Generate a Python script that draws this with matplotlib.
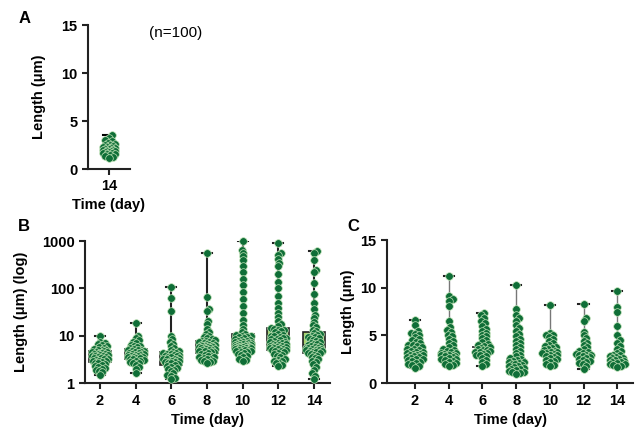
import numpy as np
import matplotlib
matplotlib.use("Agg")
import matplotlib.pyplot as plt

plt.rcParams['font.family'] = ['Liberation Sans', 'DejaVu Sans']

days = ['2', '4', '6', '8', '10', '12', '14']

# panel A, day 14 (um)
a_d14 = [3.5, 3.2, 3.0, 2.9, 2.7, 2.6, 2.5, 2.5, 2.4, 2.3, 2.3, 2.2, 2.2, 2.1, 2.1,
         2.0, 2.0, 1.9, 1.9, 1.9, 1.8, 1.8, 1.7, 1.7, 1.6, 1.6, 1.5, 1.4, 1.3, 1.2]

# panel B, log lengths (um)
b_d2 = [10, 7.5, 7.0, 6.6, 6.3, 6.0, 5.7, 5.5, 5.3, 5.1, 5.0, 4.9, 4.8, 4.6, 4.6,
        4.5, 4.4, 4.3, 4.2, 4.2, 4.1, 4.0, 3.9, 3.8, 3.8, 3.7, 3.6, 3.5, 3.4, 3.4,
        3.3, 3.2, 3.1, 3.0, 3.0, 2.9, 2.8, 2.7, 2.6, 2.5, 2.4, 2.3, 2.2, 2.1, 2.0,
        1.9, 1.8, 1.7, 1.5]
b_d4 = [19, 10, 9.0, 8.0, 7.5, 7.0, 6.5, 6.2, 6.0, 5.8, 5.5, 5.3, 5.1, 5.0, 4.9,
        4.8, 4.7, 4.6, 4.5, 4.4, 4.3, 4.2, 4.1, 4.0, 3.9, 3.9, 3.8, 3.7, 3.6, 3.6,
        3.5, 3.4, 3.4, 3.3, 3.2, 3.1, 3.0, 2.9, 2.8, 2.7, 2.6, 2.4, 2.2, 2.0, 1.6]
b_d6 = [105, 62, 33, 10, 8.5, 7.5, 6.8, 6.0, 5.5, 5.0, 4.7, 4.5, 4.4, 4.3, 4.2,
        4.1, 4.0, 3.9, 3.8, 3.7, 3.6, 3.5, 3.4, 3.3, 3.3, 3.2, 3.1, 3.0, 3.0, 2.9,
        2.8, 2.8, 2.7, 2.6, 2.5, 2.4, 2.3, 2.2, 2.1, 2.0, 1.9, 1.8, 1.6, 1.5, 1.4,
        1.3, 1.2]
b_d8 = [550, 65, 37, 33, 21, 18, 14, 12, 11, 10, 9.5, 9.0, 8.5, 8.2, 7.9, 7.7,
        7.5, 7.3, 7.1, 6.9, 6.7, 6.5, 6.4, 6.3, 6.2, 6.1, 6.0, 5.9, 5.8, 5.7, 5.6,
        5.5, 5.4, 5.3, 5.2, 5.1, 5.0, 4.9, 4.8, 4.7, 4.6, 4.5, 4.4, 4.2, 4.0, 3.8,
        3.7, 3.6, 3.5, 3.4, 3.3, 3.2, 3.1, 3.0, 2.9, 2.8, 2.7]
b_d10 = [1000, 650, 560, 480, 400, 300, 220, 160, 120, 85, 60, 42, 30, 22, 17, 14,
         12, 11, 10.4, 10.1, 9.8, 9.5, 9.2, 8.9, 8.6, 8.3, 8.1, 7.9, 7.7, 7.5,
         7.3, 7.1, 7.0, 6.9, 6.8, 6.7, 6.6, 6.5, 6.4, 6.3, 6.2, 6.1, 6.0, 5.9,
         5.8, 5.8, 5.7, 5.7, 5.6, 5.6, 5.5, 5.5, 5.4, 5.3, 5.2, 5.1, 5.0, 4.9,
         4.8, 4.7, 4.6, 4.5, 4.3, 4.1, 3.9, 3.7, 3.5, 3.3, 3.1, 3.0]
b_d12 = [900, 560, 500, 420, 350, 300, 200, 140, 100, 70, 50, 38, 30, 25, 21, 18,
         16, 14.5, 14, 13.5, 13, 12.5, 11.8, 11, 10.5, 10, 9.8, 9.5, 9.0, 8.9,
         8.7, 8.4, 8.1, 7.8, 7.5, 7.3, 7.2, 7.0, 6.8, 6.6, 6.4, 6.3, 6.2, 6.0,
         5.9, 5.8, 5.7, 5.6, 5.5, 5.4, 5.3, 5.2, 5.1, 4.9, 4.8, 4.7, 4.5, 4.3,
         4.1, 3.9, 3.7, 3.5, 3.3, 3.1, 3.0, 2.9, 2.7, 2.6, 2.4, 2.3]
b_d14 = [620, 560, 400, 250, 220, 130, 75, 50, 36, 28, 24, 20, 17, 15, 13.5, 12.5,
         11.2, 10.8, 10.4, 10.0, 9.6, 9.2, 8.8, 8.4, 8.0, 7.7, 7.4, 7.1, 6.8, 6.6,
         6.4, 6.2, 6.0, 5.8, 5.6, 5.5, 5.4, 5.3, 5.2, 5.1, 5.0, 4.9, 4.8, 4.7, 4.6,
         4.5, 4.4, 4.3, 4.2, 4.0, 3.8, 3.6, 3.4, 3.2, 3.0, 2.8, 2.5, 2.2, 1.9, 1.6,
         1.4, 1.2]

# panel C, linear lengths (um)
c_d2 = [6.6, 6.1, 5.5, 5.3, 5.2, 5.0, 4.8, 4.6, 4.5, 4.3, 4.2, 4.0, 4.0, 3.9, 3.8,
        3.6, 3.6, 3.5, 3.4, 3.3, 3.3, 3.2, 3.1, 3.1, 3.0, 3.0, 2.9, 2.8, 2.7, 2.7,
        2.6, 2.5, 2.5, 2.4, 2.3, 2.2, 2.1, 2.0, 1.9, 1.8, 1.6]
c_d4 = [11.2, 9.1, 8.8, 8.6, 8.1, 6.5, 5.9, 5.6, 5.4, 5.1, 4.9, 4.6, 4.4, 4.2, 4.0,
        3.8, 3.6, 3.5, 3.4, 3.3, 3.2, 3.2, 3.1, 3.0, 3.0, 2.9, 2.8, 2.8, 2.7, 2.6,
        2.5, 2.5, 2.4, 2.3, 2.2, 2.1, 2.0, 1.9, 1.8]
c_d6 = [7.4, 7.1, 6.8, 6.5, 6.3, 6.0, 5.7, 5.5, 5.3, 5.1, 4.9, 4.7, 4.5, 4.3, 4.1,
        4.0, 3.9, 3.8, 3.7, 3.6, 3.5, 3.5, 3.4, 3.3, 3.3, 3.2, 3.1, 3.0, 2.9, 2.8,
        2.6, 2.4, 2.2, 2.0, 1.8]
c_d8 = [10.3, 7.8, 7.2, 6.8, 6.5, 6.1, 5.8, 5.5, 5.2, 4.9, 4.6, 4.4, 4.2, 4.0, 3.8,
        3.6, 3.4, 3.2, 3.0, 2.8, 2.6, 2.5, 2.4, 2.3, 2.2, 2.2, 2.1, 2.0, 2.0, 1.9,
        1.8, 1.8, 1.7, 1.6, 1.5, 1.5, 1.4, 1.3, 1.2, 1.2, 1.1, 1.0]
c_d10 = [8.2, 5.3, 5.1, 5.0, 4.8, 4.6, 4.4, 4.2, 4.0, 3.9, 3.8, 3.7, 3.6, 3.5, 3.4,
         3.3, 3.3, 3.2, 3.2, 3.1, 3.0, 2.9, 2.8, 2.7, 2.6, 2.5, 2.4, 2.3, 2.2, 2.0,
         1.9, 1.8]
c_d12 = [8.3, 6.8, 6.5, 5.4, 5.0, 4.7, 4.4, 4.2, 4.0, 3.8, 3.6, 3.4, 3.3, 3.2, 3.1,
         3.0, 3.0, 2.9, 2.8, 2.7, 2.6, 2.5, 2.4, 2.3, 2.2, 2.1, 2.0, 1.8, 1.5]
c_d14 = [9.7, 8.0, 7.5, 6.0, 5.1, 4.5, 4.2, 3.9, 3.6, 3.4, 3.2, 3.0, 2.9, 2.8, 2.7,
         2.6, 2.6, 2.5, 2.4, 2.4, 2.3, 2.2, 2.2, 2.1, 2.0, 2.0, 1.9, 1.8, 1.7]

b_data = [b_d2, b_d4, b_d6, b_d8, b_d10, b_d12, b_d14]
c_data = [c_d2, c_d4, c_d6, c_d8, c_d10, c_d12, c_d14]

dot_face = '#0f6e37'
dot_edge = '#c2e4b8'
box_fill = '#a6d46a'


def swarm(ax, x0, vals, d, maxw):
    # beeswarm in pixel space, half width limited to maxw px
    vals = np.asarray(vals, float)
    pts = ax.transData.transform(np.column_stack([np.full(len(vals), x0), vals]))
    xc = pts[0, 0]
    ys = pts[:, 1]
    xs = np.zeros(len(vals))
    cands = [0.0]
    step = d * 0.25
    k = 1
    while k * step <= maxw:
        cands += [k * step, -k * step]
        k += 1
    placed = []
    for i in np.argsort(ys):
        y = ys[i]
        best, best_gap = 0.0, -1.0
        for off in cands:
            gap = min([np.hypot(off - px, y - py) for px, py in placed] or [99.0])
            if gap >= d:
                best = off
                break
            if gap > best_gap:
                best, best_gap = off, gap
        placed.append((best, y))
        xs[i] = xc + best
    back = ax.transData.inverted().transform(np.column_stack([xs, ys]))
    ax.scatter(back[:, 0], vals, s=30, c=dot_face, edgecolors=dot_edge,
               linewidths=0.5, zorder=3, clip_on=False)


def style(ax):
    for sp in ['top', 'right']:
        ax.spines[sp].set_visible(False)
    for sp in ['left', 'bottom']:
        ax.spines[sp].set_linewidth(1.5)
        ax.spines[sp].set_color('#222222')
    ax.tick_params(width=1.5, length=4, color='#222222', labelsize=10.5)
    for lab in ax.get_xticklabels() + ax.get_yticklabels():
        lab.set_fontweight('bold')


fig = plt.figure(figsize=(6.44, 4.29), dpi=100)

# ---- A
axA = fig.add_axes([0.1366, 0.606, 0.0652, 0.3357])
axA.boxplot([a_d14], positions=[0], widths=0.3, whis=(0, 100), showfliers=False,
            manage_ticks=False,
            boxprops=dict(linewidth=0), medianprops=dict(linewidth=0),
            whiskerprops=dict(color='#777777', linewidth=1),
            capprops=dict(color='black', linewidth=1.5), capwidths=0.3)
axA.set_xlim(-0.5, 0.5)
axA.set_ylim(0, 15)
axA.set_yticks([0, 5, 10, 15])
axA.set_xticks([0])
axA.set_xticklabels(['14'])
swarm(axA, 0, a_d14, 4.0, 6)
axA.set_ylabel('Length (μm)', fontsize=10.5, fontweight='bold')
axA.yaxis.set_label_coords(-1.0, 0.5)
axA.set_xlabel('Time (day)', fontsize=10.5, fontweight='bold', labelpad=3)
style(axA)

# ---- B
axB = fig.add_axes([0.132, 0.107, 0.380, 0.331])
axB.set_yscale('log')
axB.boxplot(b_data, positions=range(7), widths=0.62, whis=(0, 100), showfliers=False,
            patch_artist=True, manage_ticks=False,
            boxprops=dict(facecolor=box_fill, edgecolor='#222222', linewidth=1.2),
            medianprops=dict(color='#222222', linewidth=1.2),
            whiskerprops=dict(color='#222222', linewidth=1.5),
            capprops=dict(color='#222222', linewidth=1.5), capwidths=0.28)
axB.set_xlim(-0.42, 6.44)
axB.set_ylim(1, 1000)
axB.set_yticks([1, 10, 100, 1000])
axB.set_yticklabels(['1', '10', '100', '1000'])
axB.yaxis.set_minor_locator(matplotlib.ticker.NullLocator())
axB.set_xticks(range(7))
axB.set_xticklabels(days)
for i, v in enumerate(b_data):
    swarm(axB, i, v, 3.2, 8)
axB.set_ylabel('Length (μm) (log)', fontsize=10.5, fontweight='bold')
axB.yaxis.set_label_coords(-0.233, 0.5)
axB.set_xlabel('Time (day)', fontsize=10.5, fontweight='bold', labelpad=4)
style(axB)

# ---- C
axC = fig.add_axes([0.601, 0.107, 0.382, 0.333])
axC.boxplot(c_data, positions=range(7), widths=0.6, whis=(0, 100), showfliers=False,
            manage_ticks=False,
            boxprops=dict(linewidth=0),
            medianprops=dict(color='#222222', linewidth=1.2),
            whiskerprops=dict(color='#777777', linewidth=1),
            capprops=dict(color='#222222', linewidth=1.5), capwidths=0.3)
axC.set_xlim(-0.83, 6.47)
axC.set_ylim(0, 15)
axC.set_yticks([0, 5, 10, 15])
axC.set_xticks(range(7))
axC.set_xticklabels(days)
for i, v in enumerate(c_data):
    swarm(axC, i, v, 3.8, 8)
axC.set_ylabel('Length (μm)', fontsize=10.5, fontweight='bold')
axC.yaxis.set_label_coords(-0.13, 0.5)
axC.set_xlabel('Time (day)', fontsize=10.5, fontweight='bold', labelpad=4)
style(axC)

fig.text(0.0295, 0.958, 'A', fontsize=12, fontweight='bold', va='center')
fig.text(0.028, 0.471, 'B', fontsize=12, fontweight='bold', va='center')
fig.text(0.540, 0.471, 'C', fontsize=12, fontweight='bold', va='center')
fig.text(0.272, 0.923, '(n=100)', fontsize=11, ha='center', va='center')

fig.savefig('out.png', dpi=100)
